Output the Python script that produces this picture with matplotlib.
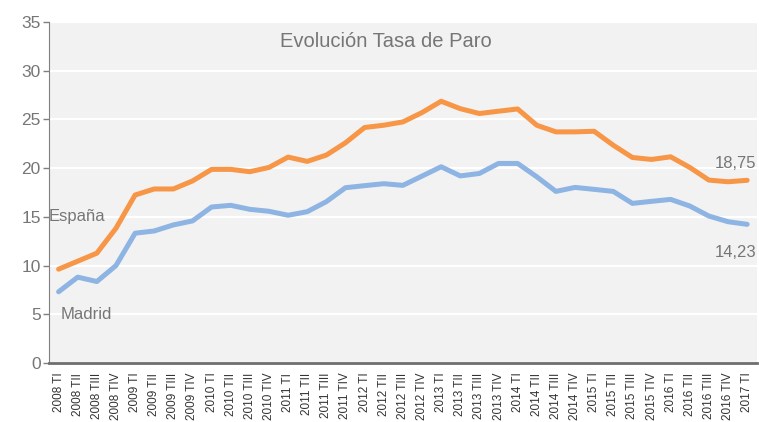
import matplotlib
matplotlib.use('Agg')
import matplotlib.pyplot as plt
from matplotlib import font_manager

# ── Data ─────────────────────────────────────────────────────────────────────
YEARS = [2008] * 4 + [2009] * 4 + [2010] * 4 + [2011] * 4 + [2012] * 4 \
    + [2013] * 4 + [2014] * 4 + [2015] * 4 + [2016] * 4 + [2017]
QUARTERS = ['TI', 'TII', 'TIII', 'TIV'] * 9 + ['TI']
LABELS = [f'{y} {q}' for y, q in zip(YEARS, QUARTERS)]

ESPANA = [9.63, 10.45, 11.27, 13.83, 17.24, 17.86, 17.86, 18.68,
          19.87, 19.87, 19.63, 20.07, 21.13, 20.69, 21.34, 22.60,
          24.17, 24.40, 24.74, 25.70, 26.86, 26.10, 25.60, 25.84,
          26.07, 24.40, 23.72, 23.72, 23.78, 22.35, 21.09, 20.89,
          21.16, 20.07, 18.77, 18.60, 18.75]
MADRID = [7.31, 8.81, 8.36, 10.00, 13.32, 13.55, 14.17, 14.58,
          16.01, 16.18, 15.77, 15.57, 15.16, 15.53, 16.56, 17.99,
          18.20, 18.40, 18.23, 19.18, 20.14, 19.20, 19.45, 20.48,
          20.48, 19.11, 17.61, 18.02, 17.82, 17.61, 16.38, 16.59,
          16.79, 16.11, 15.08, 14.50, 14.23]

TITLE = 'Evolución Tasa de Paro'
Y_TICKS = [0, 5, 10, 15, 20, 25, 30, 35]

ORANGE = '#F79646'
BLUE = '#8DB4E2'
GREY_TXT = '#767676'

names = {f.name for f in font_manager.fontManager.ttflist}
NARROW = ['Liberation Sans Narrow', 'DejaVu Sans'] if 'Liberation Sans Narrow' in names \
    else ['Liberation Sans', 'DejaVu Sans']
REGULAR = ['Liberation Sans', 'DejaVu Sans']
plt.rcParams['font.family'] = NARROW

fig = plt.figure(figsize=(7.59, 4.22), dpi=100)
ax = fig.add_axes([0.0646, 0.1398, 0.9324, 0.8082])
ax.set_facecolor('#F2F2F2')

x = list(range(len(LABELS)))
ax.plot(x, ESPANA, color=ORANGE, linewidth=3.6, solid_capstyle='round', zorder=3)
ax.plot(x, MADRID, color=BLUE, linewidth=3.6, solid_capstyle='round', zorder=3)

ax.set_xlim(-0.5, len(LABELS) - 0.5)
ax.set_ylim(0, 35)
ax.set_yticks(Y_TICKS)
ax.yaxis.grid(True, color='white', linewidth=1.6)
ax.set_axisbelow(True)

ax.set_xticks(x)
ax.set_xticklabels(LABELS, rotation=90, fontsize=8.5, color='#333333',
                   family=REGULAR)
ax.tick_params(axis='x', length=0, pad=7)
ax.tick_params(axis='y', length=4, width=1, color='#808080',
               labelsize=12.5, labelcolor=GREY_TXT, pad=2)

ax.spines['top'].set_visible(False)
ax.spines['right'].set_visible(False)
ax.spines['left'].set_color('#808080')
ax.spines['bottom'].set_color('#6E6E6E')
ax.spines['bottom'].set_linewidth(2)

ax.text(0.476, 0.943, TITLE, transform=ax.transAxes, ha='center', va='center',
        fontsize=14.5, color=GREY_TXT)
ax.text(0.0, 15.0, 'España', ha='left', va='center', fontsize=12,
        color=GREY_TXT, transform=ax.get_yaxis_transform())
ax.text(0.017, 5.0, 'Madrid', ha='left', va='center', fontsize=12,
        color=GREY_TXT, transform=ax.get_yaxis_transform())
ax.text(len(LABELS) - 0.5, 20.5, f'{ESPANA[-1]:.2f}'.replace('.', ','),
        ha='right', va='center', fontsize=12, color=GREY_TXT)
ax.text(len(LABELS) - 0.5, 11.3, f'{MADRID[-1]:.2f}'.replace('.', ','),
        ha='right', va='center', fontsize=12, color=GREY_TXT)

fig.savefig('out.png', dpi=100)
